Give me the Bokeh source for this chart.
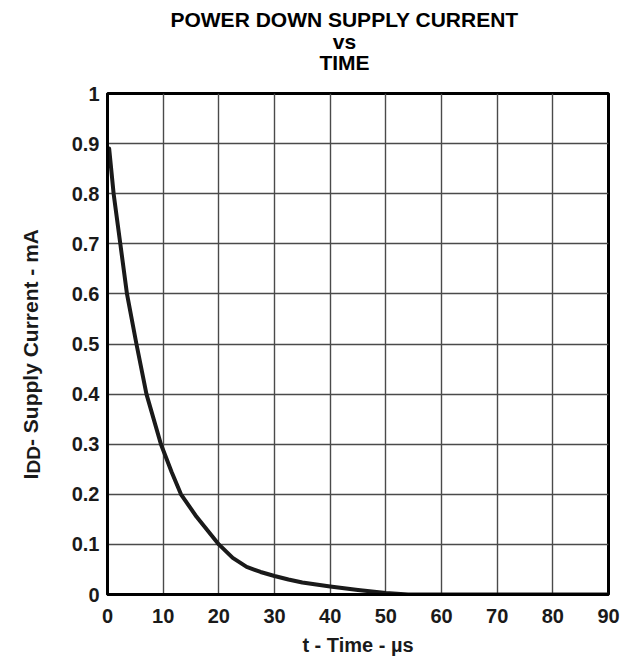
import numpy as np
from bokeh.plotting import figure
from bokeh.models import Range1d, FixedTicker
from bokeh.layouts import column, row
from bokeh.embed import file_html
from bokeh.resources import INLINE
from bokeh.core.properties import value

# ---- data ----
time_us = [0.3, 1.1, 2.3, 3.5, 5.2, 7.0, 9.6, 11.5, 13.2, 16.0, 20.0, 22.5, 25.0,
           27.5, 30.0, 32.5, 35.0, 37.5, 40.0, 45.0, 50.0, 54.0, 90.0]
idd_ma = [0.89, 0.80, 0.70, 0.60, 0.50, 0.40, 0.30, 0.245, 0.20, 0.155, 0.10, 0.073, 0.055,
          0.045, 0.037, 0.030, 0.024, 0.020, 0.016, 0.009, 0.003, 0.0, 0.0]

x_ticks = [0, 10, 20, 30, 40, 50, 60, 70, 80, 90]
x_tick_labels = ["0", "10", "20", "30", "40", "50", "60", "70", "80", "90"]
y_ticks = [0, 0.1, 0.2, 0.3, 0.4, 0.5, 0.6, 0.7, 0.8, 0.9, 1.0]
y_tick_labels = ["0", "0.1", "0.2", "0.3", "0.4", "0.5", "0.6", "0.7", "0.8", "0.9", "1"]

title_lines = ["POWER DOWN SUPPLY CURRENT", "vs", "TIME"]
x_label = "t - Time - \u00b5s"
y_label_parts = ["I", "DD", " - Supply Current - mA"]

FONT = "Liberation Sans"
TXT = "#1a1a1a"

# ---- overall layout in picture pixels ----
W, H = 621, 660
TOP_H = 80          # title strip height
LEFT_W = 56         # y-label strip width
FL, FT, FW, FH = 107, 93, 501, 501   # plot frame position/size
TITLE_SHIFT = 7     # measured offset correction of the title strip
YLAB_SHIFT = 12     # measured offset correction of the y-label strip


def blank_fig(w, h, xr, yr):
    f = figure(frame_width=w, frame_height=h, x_range=Range1d(*xr), y_range=Range1d(*yr),
               min_border=0, x_axis_location=None, y_axis_location=None, title=None,
               output_backend="svg", toolbar_location=None, tools="", align="start")
    f.grid.visible = False
    f.outline_line_color = None
    f.background_fill_color = "white"
    f.border_fill_color = "white"
    return f

# ---- title strip (coords: x = picture x, y = TOP_H - picture y) ----
tf = blank_fig(W, TOP_H, (0, W), (0, TOP_H))
tb = [26, 48, 69]
tf.text(x=[344, 344, 344], y=[TOP_H - b + TITLE_SHIFT for b in tb], text=title_lines,
        text_align="center", text_baseline="alphabetic", text_font=value(FONT),
        text_font_style="bold", text_font_size="21px", text_color="black")

# ---- y label strip (coords: x = picture x, y = H - picture y) ----
lh = H - TOP_H
lf = blank_fig(LEFT_W, lh, (0, LEFT_W), (0, lh))
ang = np.pi / 2
lf.text(x=[30], y=[H - 478 + YLAB_SHIFT], text=[y_label_parts[0]], angle=ang,
        text_align="left", text_baseline="alphabetic", text_font=value(FONT),
        text_font_style="bold", text_font_size="21px", text_color=TXT)
lf.text(x=[33], y=[H - 472 + YLAB_SHIFT], text=[y_label_parts[1]], angle=ang,
        text_align="left", text_baseline="alphabetic", text_font=value(FONT),
        text_font_style="bold", text_font_size="19px", text_color=TXT)
lf.text(x=[30], y=[H - 444.5 + YLAB_SHIFT], text=[y_label_parts[2]], angle=ang,
        text_align="left", text_baseline="alphabetic", text_font=value(FONT),
        text_font_style="bold", text_font_size="21px", text_color=TXT)

# ---- main plot ----
p = figure(frame_width=FW, frame_height=FH,
           min_border_left=FL - LEFT_W, min_border_right=W - FL - FW,
           min_border_top=FT - TOP_H, min_border_bottom=H - FT - FH,
           x_range=Range1d(0, 90), y_range=Range1d(0, 1), title=None,
           output_backend="svg", toolbar_location=None, tools="", align="start")

p.background_fill_color = "white"
p.border_fill_color = "white"
p.outline_line_color = "black"
p.outline_line_width = 3

for ax, ticks, labels, standoff in ((p.xaxis[0], x_ticks, x_tick_labels, 8),
                                    (p.yaxis[0], y_ticks, y_tick_labels, 2)):
    ax.ticker = FixedTicker(ticks=ticks)
    ax.major_label_overrides = {t: l for t, l in zip(ticks, labels)}
    ax.major_label_text_font = FONT
    ax.major_label_text_font_style = "bold"
    ax.major_label_text_font_size = "20px"
    ax.major_label_text_color = TXT
    ax.major_label_standoff = standoff
    ax.major_tick_line_color = None
    ax.minor_tick_line_color = None
    ax.axis_line_color = "black"
    ax.axis_line_width = 3

p.xaxis.axis_label = x_label
p.xaxis.axis_label_text_font = FONT
p.xaxis.axis_label_text_font_style = "bold"
p.xaxis.axis_label_text_font_size = "20px"
p.xaxis.axis_label_text_color = TXT
p.xaxis.axis_label_standoff = 8

p.xgrid.ticker = FixedTicker(ticks=x_ticks)
p.ygrid.ticker = FixedTicker(ticks=y_ticks)
p.grid.grid_line_color = "#4a4a4a"
p.grid.grid_line_width = 1.4

p.line(time_us, idd_ma, line_color=TXT, line_width=4, line_join="round", line_cap="round")

layout = column(tf, row(lf, p, spacing=0, align="start"), spacing=0, align="start")

open("out.html", "w").write(file_html(layout, INLINE))
